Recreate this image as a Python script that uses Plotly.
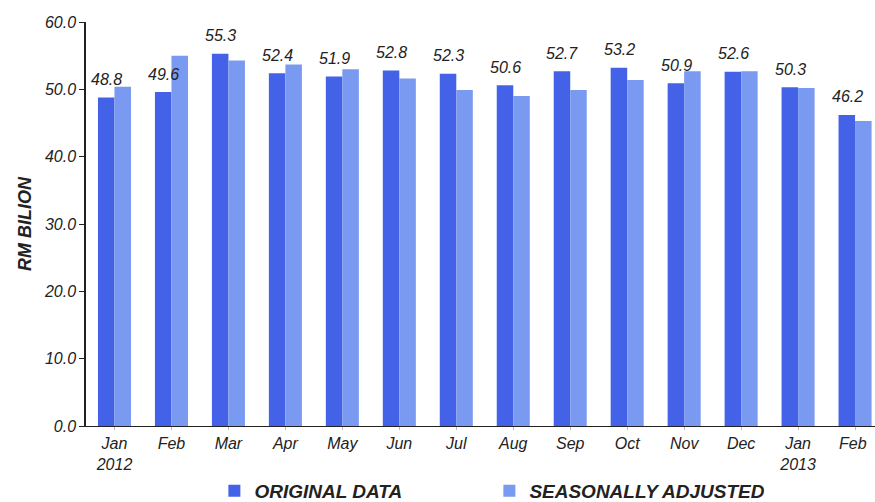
import plotly.graph_objects as go

categories = ["Jan<br>2012", "Feb", "Mar", "Apr", "May", "Jun", "Jul", "Aug",
              "Sep", "Oct", "Nov", "Dec", "Jan<br>2013", "Feb "]
original = [48.8, 49.6, 55.3, 52.4, 51.9, 52.8, 52.3, 50.6, 52.7, 53.2, 50.9, 52.6, 50.3, 46.2]
seasonal = [50.4, 55.0, 54.3, 53.7, 53.0, 51.6, 49.9, 49.0, 49.9, 51.4, 52.7, 52.7, 50.2, 45.3]
y_ticks = [0, 10, 20, 30, 40, 50, 60]

C_ORIG = "#4462E8"
C_SA = "#7A99F0"
FONT = "Liberation Sans, Arial, sans-serif"
TXT = "#222222"

fig = go.Figure()
fig.add_trace(go.Bar(x=categories, y=original, name="<b><i>ORIGINAL DATA</i></b>",
                     marker=dict(color=C_ORIG, line=dict(width=0))))
fig.add_trace(go.Bar(x=categories, y=seasonal, name="<b><i>SEASONALLY ADJUSTED</i></b>",
                     marker=dict(color=C_SA, line=dict(width=0))))

annotations = []
for c, v in zip(categories, original):
    annotations.append(dict(x=c, y=v, xref="x", yref="y", text=f"<i>{v:.1f}</i>",
                            showarrow=False, xshift=-8, yshift=18, yanchor="middle",
                            font=dict(family=FONT, size=16, color=TXT)))

fig.update_layout(
    width=875, height=502,
    margin=dict(l=86, r=0, t=22, b=76, autoexpand=False),
    paper_bgcolor="white", plot_bgcolor="white",
    barmode="group", bargap=0.42, bargroupgap=0,
    font=dict(family=FONT, size=16, color=TXT),
    showlegend=True,
    legend=dict(orientation="h", xref="container", yref="container",
                x=0.245, xanchor="left", y=0.022, yanchor="middle",
                font=dict(family=FONT, size=19, color=TXT),
                entrywidthmode="pixels", entrywidth=230,
                itemsizing="constant", bgcolor="rgba(0,0,0,0)"),
    annotations=annotations,
    xaxis=dict(range=[-0.5, 13.35], showgrid=False, showline=True, linecolor="#222",
               linewidth=1, ticks="outside", ticklen=3, tickcolor="#bbbbbb",
               tickfont=dict(family=FONT, size=16, color=TXT),
               tickprefix="<i>", ticksuffix="</i>", fixedrange=True, automargin=False),
    yaxis=dict(range=[0, 60], tickvals=y_ticks, ticktext=[f"<i>{t:.1f}</i>" for t in y_ticks],
               showgrid=False, showline=True, linecolor="#222", linewidth=1.5,
               ticks="outside", ticklen=5, tickcolor="#222", automargin=False,
               tickfont=dict(family=FONT, size=16, color=TXT),
               title=dict(text="<b><i>RM BILION</i></b>", standoff=8,
                          font=dict(family=FONT, size=18, color=TXT)),
               zeroline=False),
)
fig.write_html("out.html")
